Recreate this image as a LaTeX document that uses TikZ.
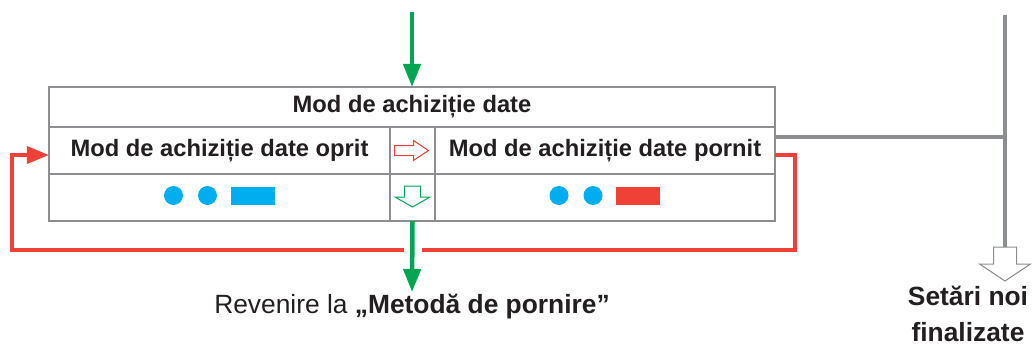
\documentclass[tikz,border=0pt]{standalone}
\usepackage{fontspec}
\setmainfont{Liberation Sans}
\usetikzlibrary{positioning, arrows.meta}

\definecolor{flowgreen}{HTML}{00A651}
\definecolor{loopred}{HTML}{EF4136}
\definecolor{framegray}{HTML}{8C8E91}
\definecolor{ledblue}{HTML}{00AEEF}
\definecolor{textdark}{HTML}{231F20}

\tikzset{
  cell/.style={draw=framegray, line width=0.25mm, inner sep=0pt, outer sep=0pt,
    minimum height=9.4mm, text=textdark, font=\fontsize{13.5}{16}\selectfont\bfseries},
  flow/.style={draw=flowgreen, line width=0.9mm, -{Triangle[width=3.4mm, length=4.6mm]}},
  pics/blockarrow/.style n args={4}{code={
    \path[pic actions] (-#1,0) -- (#1,0) -- (#1,#3) -- (#2,#3) -- (0,{#3+#4})
      -- (-#2,#3) -- (-#1,#3) -- cycle;
  }},
  pics/leds/.style={code={
    \fill[ledblue] (-46,-2) circle[radius=1.9mm];
    \fill[ledblue] (-12,-2) circle[radius=1.9mm];
    \fill[#1] (11,-11) rectangle (55,7);
  }}
}

\begin{document}
\begin{tikzpicture}[x=0.2mm, y=-0.2mm]
  \useasboundingbox (0,0) rectangle (1032,347);

  % Table of the two modes
  \node[cell, minimum width=145.2mm, minimum height=8mm] (head) at (412,107) {Mod de achiziție date};
  \node[cell, minimum width=68.2mm, below right=0pt of head.south west] (offtitle) {Mod de achiziție date oprit};
  \node[cell, minimum width=9mm, right=0pt of offtitle] (midtop) {};
  \node[cell, minimum width=68mm, right=0pt of midtop] (ontitle) {Mod de achiziție date pornit};
  \node[cell, minimum width=68.2mm, below=0pt of offtitle] (offleds) {};
  \node[cell, minimum width=9mm, below=0pt of midtop] (midbot) {};
  \node[cell, minimum width=68mm, below=0pt of ontitle] (onleds) {};
  \draw[framegray, line width=0.55mm] (head.north west) rectangle (onleds.south east);

  % LED states
  \pic at (offleds) {leds=ledblue};
  \pic at (onleds) {leds=loopred};

  % Small arrows between the columns
  \pic[rotate=90, draw=loopred, fill=white, line width=0.2mm] at ([xshift=-3.6mm]midtop) {blockarrow={5}{10}{19}{15}};
  \pic[draw=flowgreen, fill=white, line width=0.2mm] at ([yshift=2.3mm]midbot) {blockarrow={8}{17.5}{11}{10}};

  % Red loop back to the stopped mode
  \draw[loopred, line width=0.7mm, -{Triangle[width=3.4mm, length=4.4mm]}]
    ([yshift=-0.9mm]ontitle.east) -- ++(20,0) -- ++(0,95) coordinate (loopcorner)
    -- ++(-783,0) -- ++(0,-95) -- ([yshift=-0.9mm]offtitle.west);
  \draw[white, line width=2mm] (midbot.south |- loopcorner) +(-9,0) -- +(9,0);

  % Green way in and way out
  \coordinate (entry) at (412,12);
  \draw[flow] (entry) -- (head.north);
  \node[anchor=north, inner sep=1pt, text=textdark, font=\fontsize{15}{18}\selectfont] (back) at (412,292)
    {Revenire la \textbf{„Metodă de pornire”}};
  \draw[flow] (midbot.south) -- (back.north);

  % Gray rail to the end of the settings
  \coordinate (railtop) at (1005,15);
  \coordinate (railend) at (1005,247);
  \draw[framegray, line width=0.8mm] (railtop) -- (railend);
  \draw[framegray, line width=0.8mm] ([yshift=2.7mm]ontitle.east) -- ([yshift=2.7mm]ontitle.east -| railend);
  \pic[draw=framegray, fill=white, line width=0.2mm] at (railend) {blockarrow={11.5}{25.5}{17}{17}};
  \node[align=center, text=textdark, font=\fontsize{15}{20}\selectfont\bfseries] (done) at (968,314)
    {Setări noi\\finalizate};
\end{tikzpicture}
\end{document}
